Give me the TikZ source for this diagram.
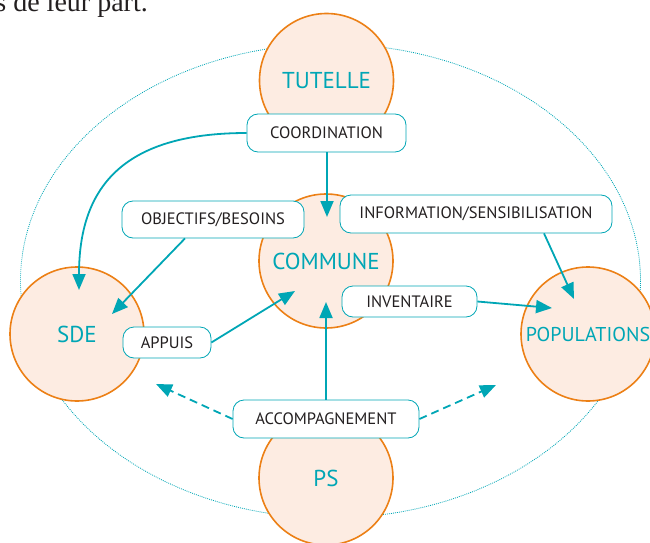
\documentclass[tikz,border=0pt]{standalone}
\usepackage{fontspec}
\setmainfont{PT Sans}
\newfontfamily\bodyserif{Liberation Serif}
\usetikzlibrary{arrows.meta}
\definecolor{tealc}{RGB}{0,166,181}
\definecolor{orangeline}{RGB}{236,128,22}
\definecolor{peach}{RGB}{253,236,226}
\definecolor{ink}{RGB}{35,31,32}
\begin{document}
\begin{tikzpicture}[x=1pt,y=-1pt,
  actor/.style={circle, minimum size=134pt, inner sep=0pt, draw=orangeline,
    line width=1.6pt, fill=peach, text=tealc, font=\fontsize{23}{24}\selectfont},
  tag/.style={rounded corners=11pt, draw=tealc, line width=0.8pt, fill=white,
    text=ink, font=\fontsize{16.5}{17}\selectfont, inner sep=0pt},
  flow/.style={draw=tealc, line width=1.8pt, -{Triangle[length=16pt,width=13pt]}},
  aside/.style={flow, dash pattern=on 8pt off 5pt},
  orbit/.style={draw=tealc, line width=0.8pt, dash pattern=on 0.9pt off 1.1pt}]
\useasboundingbox (0,0) rectangle (650,543);
\clip (0,0) rectangle (650,543);

% running text above the figure
\node[anchor=base east, inner sep=0pt, text=ink,
  font=\bodyserif\fontsize{28}{28}\selectfont] (lead) at (148,12) {s de leur part.};

% dotted orbit around the actors
\draw[orbit] (330.5,281) ellipse [x radius=310, y radius=237];

% actors
\node[actor] (tut) at (326.5,80.5) {TUTELLE};
\node[actor] (com) at (326,261) {COMMUNE};
\node[actor] (sde) at (77,334) {SDE};
\node[actor, font=\fontsize{20}{21}\selectfont] (pop) at (588,334) {POPULATIONS};
\node[actor] (ps)  at (326,478) {PS};

% arrow end points inside the actors
\coordinate (sdeTop) at (79,290);
\coordinate (sdeIn)  at (112,314);
\coordinate (comTop) at (327,217);
\coordinate (comIn)  at (295,291);
\coordinate (comBot) at (326,302);
\coordinate (popTop) at (574,299);
\coordinate (popIn)  at (552,308);
\coordinate (leftOut)  at (156,384);
\coordinate (rightOut) at (496,385);

% labelled relations
\node[tag, minimum width=159pt, minimum height=38pt] (coord) at (326.5,133) {COORDINATION};
\node[tag, minimum width=182pt, minimum height=37pt] (obj) at (213,219.5) {OBJECTIFS/BESOINS};
\node[tag, minimum width=88pt, minimum height=31pt] (appuis) at (167,342.5) {APPUIS};
\node[tag, minimum width=272pt, minimum height=38pt] (info) at (476,214) {INFORMATION/SENSIBILISATION};
\node[tag, minimum width=135pt, minimum height=31pt] (inv) at (409.5,301.5) {INVENTAIRE};
\node[tag, minimum width=186pt, minimum height=38pt] (acc) at (326,419) {ACCOMPAGNEMENT};

% connectors
\draw[flow] (coord.west) .. controls (120,133) and (79,190) .. (sdeTop);
\draw[flow] (coord.south -| comTop) -- (comTop);
\draw[flow] ([xshift=-28pt]obj.south) -- (sdeIn);
\draw[flow] (appuis.east) -- (comIn);
\draw[flow] ([xshift=68pt]info.south) -- (popTop);
\draw[flow] (inv.east) -- (popIn);
\draw[flow] (acc.north) -- (comBot);
\draw[aside] (acc.west) -- (leftOut);
\draw[aside] (acc.east) -- (rightOut);
\end{tikzpicture}
\end{document}
